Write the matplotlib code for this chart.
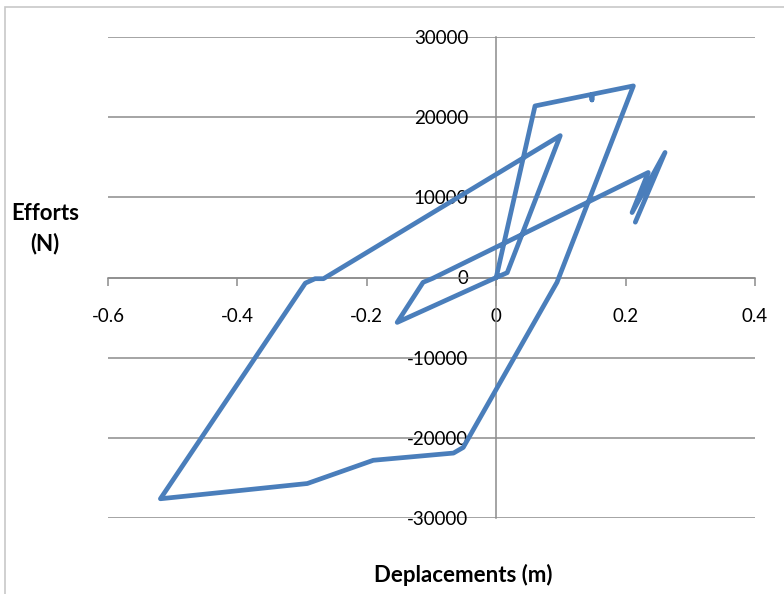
import matplotlib.pyplot as plt
from matplotlib.patches import Rectangle

# displacement (m) / force (N), in drawing order
deplacement = [0, 0.017, 0.099, -0.267, -0.28, -0.295, -0.519, -0.292, -0.19,
               -0.066, -0.051, 0.094, 0.212, 0.148, 0.148, 0.148, 0.060, 0,
               -0.153, -0.113, -0.098, 0.235, 0.210, 0.261, 0.215]
effort = [0, 600, 17700, -150, -150, -700, -27600, -25700, -22800,
          -21900, -21200, -600, 23900, 22850, 22150, 22850, 21400, 0,
          -5600, -600, -100, 13100, 8100, 15600, 6900]

x_ticks = [-0.6, -0.4, -0.2, 0, 0.2, 0.4]
x_labels = ['-0.6', '-0.4', '-0.2', '0', '0.2', '0.4']
y_ticks = [-30000, -20000, -10000, 0, 10000, 20000, 30000]

plt.rcParams['font.family'] = ['Lato', 'DejaVu Sans']
gris = '#8c8c8c'

fig = plt.figure(figsize=(7.84, 5.94), dpi=100)
ax = fig.add_axes([108 / 784, 1 - 518 / 594, 647 / 784, 481 / 594])

# light frame of the chart area
fig.patches.append(Rectangle((5 / 784, -0.1), 1.1, 1 - 7 / 594 + 0.1,
                             transform=fig.transFigure, fill=False,
                             edgecolor='#c8c8c8', lw=1.2))

for yv in y_ticks:
    ax.axhline(yv, color=gris, lw=1.1, zorder=1)

ax.plot(deplacement, effort, color='#4a7ebb', lw=3.4,
        solid_joinstyle='round', solid_capstyle='round', zorder=3)

ax.set_xlim(-0.6, 0.4)
ax.set_ylim(-30000, 30000)

ax.spines['left'].set_position(('data', 0))
ax.spines['bottom'].set_position(('data', 0))
ax.spines['top'].set_visible(False)
ax.spines['right'].set_visible(False)
for s in ['left', 'bottom']:
    ax.spines[s].set_color(gris)
    ax.spines[s].set_linewidth(1.1)
    ax.spines[s].set_zorder(2)

ax.set_xticks(x_ticks)
ax.set_xticklabels(x_labels)
ax.set_yticks(y_ticks)
ax.set_yticklabels([str(v) for v in y_ticks])
ax.tick_params(axis='x', direction='out', length=6, width=1.1, color=gris,
               pad=16, labelsize=13.5)
ax.tick_params(axis='y', length=0, pad=20, labelsize=13.5)

fig.text(45 / 784, 1 - 229 / 594, 'Efforts\n(N)', ha='center', va='center',
         fontsize=16, fontweight='bold', linespacing=1.5)
fig.text(463 / 784, 1 - 575 / 594, 'Deplacements (m)', ha='center',
         va='center', fontsize=16, fontweight='bold')

fig.savefig('out.png', dpi=100)
